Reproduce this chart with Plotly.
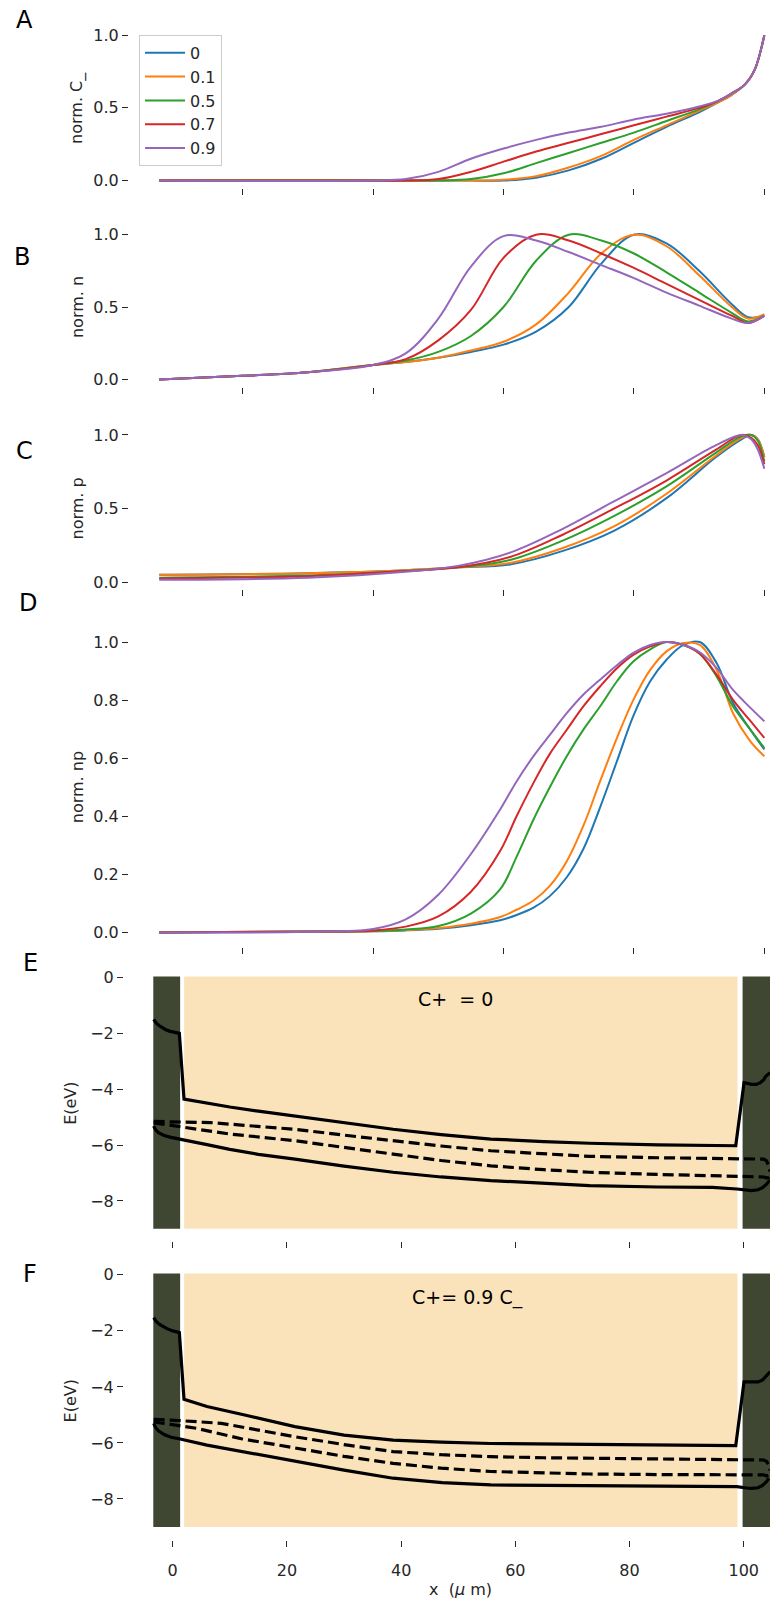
import plotly.graph_objects as go

W, H = 770, 1603
FONT = "DejaVu Sans"
INK = "#262626"

# ---------------- data ----------------
labels = ["0", "0.1", "0.5", "0.7", "0.9"]
colors = ["#1f77b4", "#ff7f0e", "#2ca02c", "#d62728", "#9467bd"]

# A: normalised anion vacancy density C_
xa = [7.2, 40, 45, 50, 55, 60, 65, 70, 75, 80, 85, 90, 93, 95, 97, 98.5, 100]
ca = {
    "0":   [0, 0, 0, 0, 0, 0.0, 0.02, 0.07, 0.15, 0.26, 0.37, 0.47, 0.54, 0.59, 0.66, 0.76, 1.0],
    "0.1": [0, 0, 0, 0, 0, 0.005, 0.03, 0.09, 0.17, 0.28, 0.38, 0.48, 0.54, 0.59, 0.66, 0.76, 1.0],
    "0.5": [0, 0, 0, 0, 0.01, 0.05, 0.12, 0.19, 0.26, 0.33, 0.41, 0.49, 0.55, 0.6, 0.66, 0.76, 1.0],
    "0.7": [0, 0, 0, 0.01, 0.06, 0.13, 0.20, 0.26, 0.32, 0.38, 0.44, 0.50, 0.55, 0.6, 0.66, 0.76, 1.0],
    "0.9": [0, 0, 0.01, 0.06, 0.15, 0.22, 0.28, 0.33, 0.37, 0.42, 0.46, 0.51, 0.55, 0.6, 0.66, 0.76, 1.0],
}

# B: normalised electron density n
xb = [7.2, 20, 30, 40, 45, 50, 55, 60, 65, 70, 75, 80, 85, 90, 95, 97.5, 100]
nb = {
    "0":   [0, 0.025, 0.05, 0.10, 0.12, 0.15, 0.19, 0.24, 0.33, 0.50, 0.80, 1.00, 0.94, 0.75, 0.52, 0.43, 0.44],
    "0.1": [0, 0.025, 0.05, 0.10, 0.12, 0.15, 0.20, 0.26, 0.38, 0.60, 0.87, 1.00, 0.92, 0.72, 0.50, 0.42, 0.45],
    "0.5": [0, 0.025, 0.05, 0.10, 0.13, 0.19, 0.30, 0.50, 0.82, 1.00, 0.96, 0.87, 0.74, 0.60, 0.46, 0.40, 0.44],
    "0.7": [0, 0.025, 0.05, 0.10, 0.14, 0.27, 0.48, 0.84, 1.00, 0.96, 0.87, 0.77, 0.66, 0.55, 0.44, 0.39, 0.44],
    "0.9": [0, 0.025, 0.05, 0.10, 0.18, 0.42, 0.78, 0.99, 0.96, 0.88, 0.79, 0.70, 0.60, 0.51, 0.42, 0.39, 0.44],
}

# C: normalised hole density p
xc = [7.2, 30, 45, 53, 61, 69, 77, 85, 92.6, 96.5, 98, 99, 100]
pc = {
    "0":   [0.05, 0.06, 0.08, 0.10, 0.12, 0.21, 0.35, 0.57, 0.85, 0.97, 1.00, 0.97, 0.85],
    "0.1": [0.05, 0.06, 0.08, 0.10, 0.13, 0.23, 0.38, 0.60, 0.86, 0.98, 1.00, 0.97, 0.85],
    "0.5": [0.03, 0.045, 0.075, 0.10, 0.15, 0.28, 0.45, 0.65, 0.88, 0.99, 1.00, 0.96, 0.82],
    "0.7": [0.025, 0.04, 0.075, 0.10, 0.17, 0.32, 0.50, 0.69, 0.90, 1.00, 0.98, 0.93, 0.80],
    "0.9": [0.015, 0.03, 0.07, 0.11, 0.20, 0.36, 0.55, 0.74, 0.93, 1.00, 0.97, 0.90, 0.77],
}

# D: normalised product np
xd = [7.2, 30, 40, 45, 50, 55, 59.5, 62.0, 64.6, 67.1, 69.7, 72.3, 74.8, 77.4, 79.9,
      82.5, 85.0, 87.6, 90.1, 92.7, 95.2, 97.8, 100]
npd = {
    "0":   [0, 0.002, 0.004, 0.007, 0.013, 0.025, 0.042, 0.06, 0.085, 0.125, 0.19, 0.29, 0.43,
            0.59, 0.745, 0.865, 0.939, 0.99, 1.0, 0.927, 0.79, 0.70, 0.63],
    "0.1": [0, 0.002, 0.004, 0.008, 0.015, 0.03, 0.053, 0.078, 0.11, 0.16, 0.245, 0.37, 0.52,
            0.67, 0.80, 0.904, 0.968, 0.997, 0.99, 0.904, 0.755, 0.66, 0.607],
    "0.5": [0, 0.003, 0.005, 0.01, 0.022, 0.065, 0.149, 0.26, 0.389, 0.50, 0.607, 0.70, 0.778,
            0.865, 0.933, 0.975, 1.0, 0.99, 0.96, 0.881, 0.778, 0.70, 0.635],
    "0.7": [0, 0.003, 0.007, 0.02, 0.055, 0.14, 0.281, 0.40, 0.515, 0.615, 0.698, 0.78, 0.847,
            0.91, 0.956, 0.985, 1.0, 0.99, 0.96, 0.887, 0.801, 0.73, 0.67],
    "0.9": [0, 0.002, 0.012, 0.045, 0.13, 0.27, 0.424, 0.52, 0.607, 0.68, 0.755, 0.82, 0.87,
            0.92, 0.963, 0.99, 1.0, 0.99, 0.965, 0.91, 0.835, 0.775, 0.727],
}

# E/F: device layers (x in um)
layer_x0 = [-3.4, 2.0, 99.8]
layer_x1 = [1.3, 98.9, 106.0]
layer_fill = ["#3f4632", "#fae3bb", "#3f4632"]
layer_ybot, layer_ytop = -9.0, 0.05

# E: band diagram for C+ = 0
ec_x = [-3.33, -2.9, -2.4, -1.87, -1.2, -0.57, 0.3, 1.16, 1.98, 6, 10, 15, 21.4, 30, 38.6, 47,
        55.7, 65, 73.0, 85, 98.6, 100.05, 100.7, 101.4, 102.2, 102.9, 103.5, 103.9, 104.6]
ec_e = [-1.49, -1.62, -1.71, -1.79, -1.86, -1.91, -1.95, -1.99, -4.35, -4.5, -4.63, -4.78, -4.95,
        -5.2, -5.43, -5.62, -5.78, -5.87, -5.93, -5.99, -6.02, -3.76, -3.8, -3.82, -3.82, -3.76,
        -3.65, -3.52, -3.40]
ev_x = [-3.33, -3.0, -2.5, -1.5, -0.3, 1.3, 6, 10, 15, 21.4, 30, 38.6, 47, 55.7, 65, 73.0, 85,
        94.5, 98.8, 100.5, 101.4, 102.5, 103.3, 104.0, 104.6]
ev_e = [-5.31, -5.45, -5.55, -5.65, -5.72, -5.78, -5.98, -6.15, -6.33, -6.5, -6.75, -6.97, -7.14,
        -7.27, -7.38, -7.45, -7.5, -7.51, -7.57, -7.62, -7.63, -7.6, -7.52, -7.4, -7.25]
efn_x = [-3.33, 1.0, 6.7, 12, 21.4, 30, 38.6, 47, 55.7, 65, 73.0, 85, 98.8, 103.5, 104.0, 104.4, 104.6]
efn_e = [-5.15, -5.17, -5.19, -5.28, -5.43, -5.64, -5.84, -6.03, -6.2, -6.32, -6.4, -6.45, -6.47,
         -6.5, -6.56, -6.75, -6.95]
efp_x = [-3.33, -1.0, 1.6, 10, 21.4, 30, 38.6, 47, 55.7, 65, 73.0, 85, 98.8, 103.5, 104.0, 104.4, 104.6]
efp_e = [-5.2, -5.27, -5.36, -5.6, -5.84, -6.09, -6.32, -6.55, -6.74, -6.88, -6.97, -7.05, -7.1,
         -7.14, -7.18, -7.15, -7.02]

# F: band diagram for C+ = 0.9 C_
fc_x = [-3.33, -2.9, -2.3, -1.7, -1.0, 0.0, 1.16, 1.98, 6, 12.8, 21.4, 30.0, 38.6, 47, 55.7,
        73.0, 85, 98.6, 100.05, 101.4, 102.5, 103.3, 103.9, 104.6]
fc_e = [-1.53, -1.66, -1.77, -1.85, -1.92, -2.0, -2.06, -4.44, -4.7, -5.01, -5.42, -5.72, -5.9,
        -5.97, -6.02, -6.05, -6.08, -6.1, -3.82, -3.83, -3.82, -3.75, -3.62, -3.46]
fv_x = [-3.33, -3.0, -2.5, -1.5, -0.3, 1.3, 6, 12.8, 21.4, 30.0, 38.6, 47.2, 55.7, 73.0, 98.8,
        100.5, 101.4, 102.5, 103.3, 104.0, 104.4]
fv_e = [-5.3, -5.45, -5.57, -5.7, -5.8, -5.86, -6.08, -6.34, -6.67, -6.97, -7.26, -7.42, -7.5,
        -7.53, -7.56, -7.61, -7.62, -7.6, -7.52, -7.38, -7.26]
ffn_x = [-3.33, 1.0, 8.5, 14, 21.4, 30, 38.6, 47, 55.7, 65, 73.0, 85, 103.5, 104.0, 104.4, 104.6]
ffn_e = [-5.16, -5.2, -5.3, -5.5, -5.78, -6.06, -6.31, -6.42, -6.49, -6.53, -6.55, -6.58, -6.61,
         -6.66, -6.8, -6.98]
ffp_x = [-3.33, -1.0, 4.2, 12, 21.4, 30, 38.6, 47, 55.7, 65, 73.0, 85, 103.5, 104.0, 104.4, 104.6]
ffp_e = [-5.25, -5.33, -5.48, -5.85, -6.19, -6.48, -6.73, -6.9, -7.02, -7.08, -7.11, -7.13, -7.14,
         -7.18, -7.15, -7.03]

# ---------------- layout helpers ----------------
def vdom(top_px, bot_px):
    return [1 - bot_px / H, 1 - top_px / H]

def hdom(left_px):
    return [left_px / W, 1.0]

fig = go.Figure()

curve_panels = [
    ("", xa, ca, "norm. C_", vdom(26.0, 186.3), [0, 0.5, 1.0]),
    ("2", xb, nb, "norm. n", vdom(226.0, 385.6), [0, 0.5, 1.0]),
    ("3", xc, pc, "norm. p", vdom(426.6, 588.9), [0, 0.5, 1.0]),
    ("4", xd, npd, "norm. np", vdom(627.1, 947.3), [0, 0.2, 0.4, 0.6, 0.8, 1.0]),
]

tickfont = dict(family=FONT, size=16, color=INK)
axis_common = dict(showgrid=False, zeroline=False, showline=False, ticks="outside",
                   ticklen=6, tickwidth=1.3, tickcolor=INK, tickfont=tickfont)

layout = dict(width=W, height=H, margin=dict(l=0, r=0, t=0, b=0),
              paper_bgcolor="white", plot_bgcolor="white", showlegend=True)

annotations = []
for i, (sfx, xs, series, ylab, ydom, yticks) in enumerate(curve_panels):
    for lab, col in zip(labels, colors):
        fig.add_trace(go.Scatter(
            x=xs, y=series[lab], mode="lines", name=lab,
            line=dict(color=col, width=2, shape="spline", smoothing=1.0),
            xaxis="x" + sfx, yaxis="y" + sfx, showlegend=(i == 0)))
    layout["xaxis" + sfx] = dict(axis_common, domain=hdom(129), range=[2.56, 100.87],
                                 tickvals=[20, 40, 60, 80, 100], showticklabels=False,
                                 anchor="y" + sfx)
    layout["yaxis" + sfx] = dict(axis_common, domain=ydom, range=[-0.05, 1.05],
                                 tickvals=yticks, tickformat=".1f", anchor="x" + sfx)
    yc = (ydom[0] + ydom[1]) / 2
    annotations.append(dict(text=ylab, x=77 / W, y=yc, xref="paper", yref="paper",
                            textangle=-90, showarrow=False, xanchor="center", yanchor="middle",
                            font=dict(family=FONT, size=16, color=INK)))

band_panels = [
    ("5", vdom(965.7, 1242.5), (ec_x, ec_e), (ev_x, ev_e), (efn_x, efn_e), (efp_x, efp_e), False),
    ("6", vdom(1263.4, 1541.4), (fc_x, fc_e), (fv_x, fv_e), (ffn_x, ffn_e), (ffp_x, ffp_e), True),
]

shapes = []
for sfx, ydom, cb, vb, fn, fp, show_x in band_panels:
    for x0, x1, fill in zip(layer_x0, layer_x1, layer_fill):
        shapes.append(dict(type="rect", xref="x" + sfx, yref="y" + sfx,
                           x0=x0, x1=x1, y0=layer_ybot, y1=layer_ytop,
                           fillcolor=fill, line=dict(width=0), layer="below"))
    for (bx, be) in (cb, vb):
        fig.add_trace(go.Scatter(x=bx, y=be, mode="lines", showlegend=False,
                                 line=dict(color="black", width=3.2),
                                 xaxis="x" + sfx, yaxis="y" + sfx))
    for (bx, be) in (fn, fp):
        fig.add_trace(go.Scatter(x=bx, y=be, mode="lines", showlegend=False,
                                 line=dict(color="black", width=3.2, dash="11px,5px"),
                                 xaxis="x" + sfx, yaxis="y" + sfx))
    layout["xaxis" + sfx] = dict(axis_common, domain=hdom(124), range=[-8.53, 104.6],
                                 tickvals=[0, 20, 40, 60, 80, 100], showticklabels=show_x,
                                 ticklabelstandoff=10, anchor="y" + sfx)
    layout["yaxis" + sfx] = dict(axis_common, domain=ydom, range=[-9.45, 0.45],
                                 tickvals=[0, -2, -4, -6, -8], anchor="x" + sfx)
    yc = (ydom[0] + ydom[1]) / 2
    annotations.append(dict(text="E(eV)", x=70.5 / W, y=yc, xref="paper", yref="paper",
                            textangle=-90, showarrow=False, xanchor="center", yanchor="middle",
                            font=dict(family=FONT, size=16, color=INK)))

# panel letters
for letter, (px, py) in zip("ABCDEF", [(24, 18), (22, 256), (25, 450), (28, 603), (30, 963), (30, 1275)]):
    annotations.append(dict(text=letter, x=px / W, y=1 - py / H, xref="paper", yref="paper",
                            showarrow=False, xanchor="center", yanchor="middle",
                            font=dict(family=FONT, size=24, color="black")))

annotations.append(dict(text="C+\u00a0 = 0", x=455.5 / W, y=1 - 999 / H, xref="paper", yref="paper",
                        showarrow=False, xanchor="center", yanchor="middle",
                        font=dict(family=FONT, size=19, color="black")))
annotations.append(dict(text="C+= 0.9 C_", x=467 / W, y=1 - 1299 / H, xref="paper", yref="paper",
                        showarrow=False, xanchor="center", yanchor="middle",
                        font=dict(family=FONT, size=19, color="black")))
annotations.append(dict(text="x\u00a0 (<i>μ</i> m)", x=460 / W, y=1 - 1591 / H, xref="paper", yref="paper",
                        showarrow=False, xanchor="center", yanchor="middle",
                        font=dict(family=FONT, size=16, color=INK)))

layout["annotations"] = annotations
layout["shapes"] = shapes
layout["legend"] = dict(x=139 / W, y=1 - 33 / H, xanchor="left", yanchor="top",
                        bgcolor="white", bordercolor="#cccccc", borderwidth=1,
                        font=dict(family=FONT, size=16, color=INK),
                        tracegroupgap=0, itemwidth=40)
fig.update_layout(**layout)
fig.write_html("out.html")
